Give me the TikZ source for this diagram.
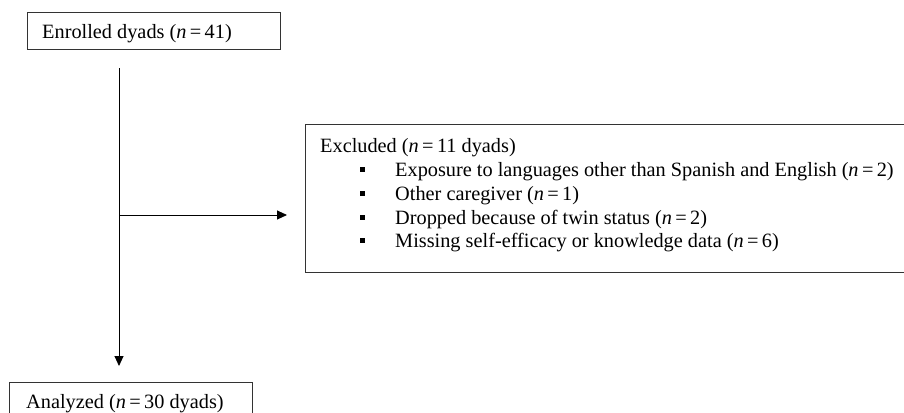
\documentclass[tikz,border=0pt]{standalone}
\usepackage{fontspec}
\setmainfont{Liberation Serif}
\usetikzlibrary{arrows.meta}
\begin{document}
\begin{tikzpicture}[x=1pt,y=-1pt,
  box/.style={draw=black!80, line width=0.9pt, inner sep=0pt},
  txt/.style={inner sep=0pt, font=\fontsize{20.3}{24}\selectfont, anchor=base west},
  bul/.style={fill=black, minimum size=5pt, inner sep=0pt},
  conn/.style={line width=0.9pt, -{Triangle[length=10pt,width=9pt]}}]
\useasboundingbox (0,0) rectangle (904,412);
% boxes
\node[box, minimum width=253pt, minimum height=37pt, anchor=north west] (enr) at (27,12) {};
\node[txt] (enrt) at (42,38) {Enrolled dyads (\textit{n}\,=\,41)};
\node[box, minimum width=610pt, minimum height=148pt, anchor=north west] (exc) at (305,124) {};
\node[txt] (ex0) at (320,152) {Excluded (\textit{n}\,=\,11 dyads)};
\node[txt] (ex1) at (395,176) {Exposure to languages other than Spanish and English (\textit{n}\,=\,2)};
\node[txt] (ex2) at (395,200) {Other caregiver (\textit{n}\,=\,1)};
\node[txt] (ex3) at (395,224) {Dropped because of twin status (\textit{n}\,=\,2)};
\node[txt] (ex4) at (395,247) {Missing self-efficacy or knowledge data (\textit{n}\,=\,6)};
\node[bul] (b1) at (362,169) {};
\node[bul] (b2) at (362,193) {};
\node[bul] (b3) at (362,217) {};
\node[bul] (b4) at (362,240) {};
\node[box, minimum width=243pt, minimum height=40pt, anchor=north west] (ana) at (9,382) {};
\node[txt] (anat) at (26,408) {Analyzed (\textit{n}\,=\,30 dyads)};
% connectors
\coordinate (top) at (119,68);
\coordinate (tip) at (119,366);
\coordinate (mid) at (119,215);
\coordinate (htip) at (287,215);
\draw[conn] (top) -- (tip);
\draw[conn] (mid) -- (htip);
\end{tikzpicture}
\end{document}
